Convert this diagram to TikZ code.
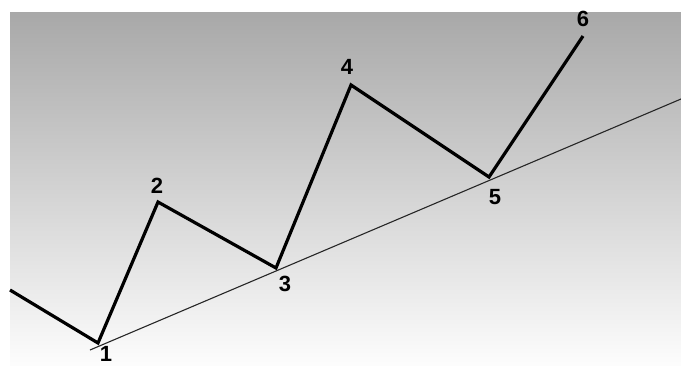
\documentclass[tikz,border=0pt]{standalone}
\usepackage{fontspec}
\setmainfont{Liberation Sans}
\begin{document}
\begin{tikzpicture}[x=1pt,y=-1pt,
  wave/.style={line width=3.2pt,black,line join=miter},
  trend/.style={line width=1.1pt,black!85},
  lbl/.style={font=\bfseries\fontsize{22}{22}\selectfont,inner sep=0pt,text=black}]
\useasboundingbox (0,0) rectangle (681,365);
\fill[white] (0,0) rectangle (681,365);
\shade[top color=black!34,bottom color=black!1,shading=axis] (10,12) rectangle (681,365);
\coordinate (p0) at (10,290);
\coordinate (p1) at (98,343);
\coordinate (p2) at (158,202);
\coordinate (p3) at (276,268);
\coordinate (p4) at (351,85);
\coordinate (p5) at (489,177);
\coordinate (p6) at (583,36);
\coordinate (ts) at (90,350);
\coordinate (te) at (681,99);
\draw[trend] (ts) -- (te);
\draw[wave] (p0) -- (p1) -- (p2) -- (p3) -- (p4) -- (p5) -- (p6);
\node[lbl] (l1) at (106,354) {1};
\node[lbl] (l2) at (157,186) {2};
\node[lbl] (l3) at (285,284) {3};
\node[lbl] (l4) at (347,67) {4};
\node[lbl] (l5) at (495,197) {5};
\node[lbl] (l6) at (583,19) {6};
\end{tikzpicture}
\end{document}
